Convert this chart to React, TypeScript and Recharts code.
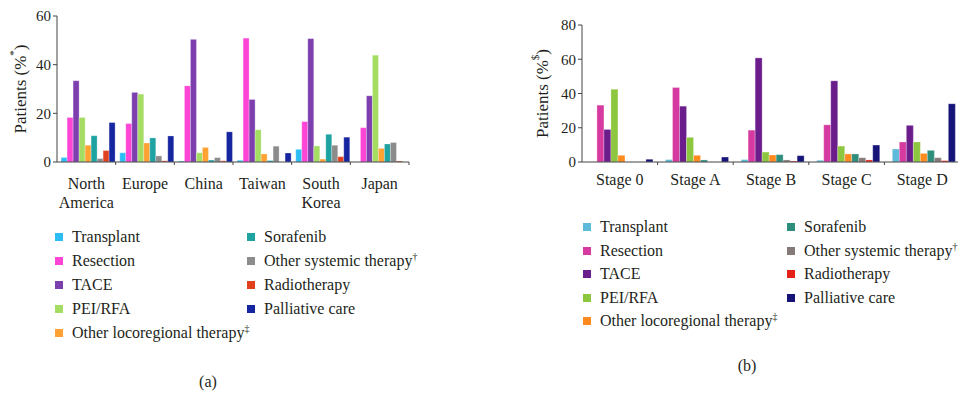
import React from "react";
import { BarChart, Bar, XAxis, YAxis, Label } from "recharts";

const FONT = "'Liberation Serif', 'Times New Roman', Times, 'DejaVu Serif', 'Noto Serif', FreeSerif, serif";
const INK = "#231f20";

// ---- (a) treatment by region ----
const regions = ["North America", "Europe", "China", "Taiwan", "South Korea", "Japan"];
const transplantByRegion = [1.8, 3.8, 0.4, 0.7, 5.2, 0];
const resectionByRegion = [18.3, 15.8, 31.3, 50.9, 16.6, 14.1];
const taceByRegion = [33.4, 28.6, 50.4, 25.7, 50.7, 27.2];
const peiRfaByRegion = [18.3, 27.9, 3.8, 13.3, 6.6, 43.9];
const otherLocoByRegion = [6.9, 7.8, 6.0, 3.3, 1.2, 5.6];
const sorafenibByRegion = [10.8, 9.9, 0.8, 0.6, 11.4, 7.4];
const otherSystemicByRegion = [1.4, 2.5, 1.8, 6.5, 6.9, 8.0];
const radiotherapyByRegion = [4.7, 0.5, 0.5, 0, 2.2, 0.4];
const palliativeByRegion = [16.2, 10.7, 12.4, 3.7, 10.2, 0];
const regionTicks = [0, 20, 40, 60];

// ---- (b) treatment by BCLC stage ----
const stages = ["Stage 0", "Stage A", "Stage B", "Stage C", "Stage D"];
const transplantByStage = [0, 1.4, 1.4, 1.0, 7.6];
const resectionByStage = [33.2, 43.5, 18.6, 21.7, 11.7];
const taceByStage = [19.0, 32.6, 60.8, 47.4, 21.4];
const peiRfaByStage = [42.5, 14.4, 5.8, 9.3, 11.7];
const otherLocoByStage = [3.9, 3.9, 4.1, 4.7, 5.0];
const sorafenibByStage = [0, 1.2, 4.3, 4.7, 6.8];
const otherSystemicByStage = [0, 0, 1.2, 2.5, 2.5];
const radiotherapyByStage = [0, 0, 0.6, 1.2, 0.8];
const palliativeByStage = [1.6, 2.9, 3.7, 9.9, 34.0];
const stageTicks = [0, 20, 40, 60, 80];

const treatments = [
  "Transplant",
  "Resection",
  "TACE",
  "PEI/RFA",
  "Other locoregional therapy",
  "Sorafenib",
  "Other systemic therapy",
  "Radiotherapy",
  "Palliative care",
];
const footnoteMarks = ["", "", "", "", "‡", "", "†", "", ""];

const regionColors = [
  "#2cbdf4", "#ff45d6", "#7d3fae", "#a4dd62", "#ffa232",
  "#1fa2a2", "#8c8c8c", "#e0421f", "#1625a0",
];
const stageColors = [
  "#5dbad9", "#d6399f", "#6b1d8c", "#8dc63f", "#ff8a1e",
  "#2e8e7c", "#857a77", "#e42117", "#161479",
];

const regionSeries = [
  transplantByRegion, resectionByRegion, taceByRegion, peiRfaByRegion, otherLocoByRegion,
  sorafenibByRegion, otherSystemicByRegion, radiotherapyByRegion, palliativeByRegion,
];
const stageSeries = [
  transplantByStage, resectionByStage, taceByStage, peiRfaByStage, otherLocoByStage,
  sorafenibByStage, otherSystemicByStage, radiotherapyByStage, palliativeByStage,
];

function buildRows(categories: string[], series: number[][]) {
  return categories.map((name, i) => {
    const row: Record<string, string | number> = { name };
    series.forEach((values, k) => {
      row[`s${k}`] = values[i];
    });
    return row;
  });
}

// category label + a small tick on the right edge of each band
function CategoryTick(props: any) {
  const { x, y, payload, width, visibleTicksCount, wrap, baseline } = props;
  const band = width / visibleTicksCount;
  const lines: string[] = wrap ? String(payload.value).split(" ") : [String(payload.value)];
  return (
    <g>
      <line x1={x + band / 2} x2={x + band / 2} y1={y} y2={y + 3} stroke="#444" />
      <text x={x} y={y + baseline} textAnchor="middle" fontSize={16} fontFamily={FONT} fill={INK}>
        {lines.map((l, i) => (
          <tspan key={i} x={x} dy={i === 0 ? 0 : 19}>
            {l}
          </tspan>
        ))}
      </text>
    </g>
  );
}

function AxisTitle(props: any) {
  const { viewBox, gap, mark } = props;
  const cx = viewBox.x + viewBox.width - gap;
  const cy = viewBox.y + viewBox.height / 2;
  return (
    <text
      x={cx}
      y={cy}
      transform={`rotate(-90, ${cx}, ${cy})`}
      textAnchor="middle"
      dominantBaseline="central"
      fontSize={17}
      fontFamily={FONT}
      fill={INK}
    >
      Patients (%
      <tspan dy={-7} fontSize={11}>
        {mark}
      </tspan>
      <tspan dy={7}>)</tspan>
    </text>
  );
}

function TreatmentLegend({ colors, left, col2, top, step }: any) {
  return (
    <div style={{ position: "absolute", left: 0, top: 0 }}>
      {treatments.map((t, k) => {
        const inFirst = k < 5;
        const row = inFirst ? k : k - 5;
        return (
          <div
            key={t}
            style={{
              position: "absolute",
              left: inFirst ? left : col2,
              top: top + row * step - 10,
              height: 20,
              display: "flex",
              alignItems: "center",
              whiteSpace: "nowrap",
              fontFamily: FONT,
              fontSize: 16,
              color: INK,
            }}
          >
            <span style={{ width: 8, height: 8, background: colors[k], marginRight: 9, display: "inline-block" }} />
            <span>
              {t}
              {footnoteMarks[k] && (
                <sup style={{ fontSize: 10, verticalAlign: "6px", lineHeight: 0 }}>{footnoteMarks[k]}</sup>
              )}
            </span>
          </div>
        );
      })}
    </div>
  );
}

function Caption({ text, x, y }: any) {
  return (
    <div
      style={{
        position: "absolute",
        left: x - 20,
        top: y - 10,
        width: 40,
        textAlign: "center",
        fontFamily: FONT,
        fontSize: 16,
        color: INK,
        lineHeight: "20px",
      }}
    >
      {text}
    </div>
  );
}

const axisTick = { fontSize: 15, fontFamily: FONT, fill: INK };

export default function App() {
  const regionRows = buildRows(regions, regionSeries);
  const stageRows = buildRows(stages, stageSeries);

  return (
    <div
      style={{
        position: "fixed",
        left: 0,
        top: 0,
        width: 958,
        height: 394,
        overflow: "hidden",
        background: "#fff",
        fontFamily: FONT,
      }}
    >
      <div style={{ position: "absolute", left: 0, top: 0 }}>
        <BarChart
          width={430}
          height={215}
          data={regionRows}
          margin={{ top: 16, right: 21, bottom: 3, left: 17 }}
          barCategoryGap="7%"
          barGap={0}
        >
          <XAxis
            dataKey="name"
            stroke="#444"
            tickLine={false}
            tickSize={0}
            tickMargin={0}
            height={50}
            interval={0}
            tick={<CategoryTick wrap baseline={27} />}
          />
          <YAxis
            domain={[0, 60]}
            ticks={regionTicks}
            width={40}
            stroke="#444"
            tickSize={4}
            tick={axisTick}
          >
            <Label content={<AxisTitle gap={37} mark="*" />} />
          </YAxis>
          {treatments.map((t, k) => (
            <Bar
              key={t}
              dataKey={`s${k}`}
              name={t}
              fill={regionColors[k]}
              stroke="#ffffff"
              strokeOpacity={0.45}
              strokeWidth={0.6}
              isAnimationActive={false}
            />
          ))}
        </BarChart>
      </div>

      <div style={{ position: "absolute", left: 490, top: 0 }}>
        <BarChart
          width={496}
          height={215}
          data={stageRows}
          margin={{ top: 25, right: 26, bottom: 3, left: 42 }}
          barCategoryGap="10.5%"
          barGap={0}
        >
          <XAxis
            dataKey="name"
            stroke="#444"
            tickLine={false}
            tickSize={0}
            tickMargin={0}
            height={50}
            interval={0}
            tick={<CategoryTick baseline={23} />}
          />
          <YAxis
            domain={[0, 80]}
            ticks={stageTicks}
            width={50}
            stroke="#444"
            tickSize={4}
            tick={axisTick}
          >
            <Label content={<AxisTitle gap={40} mark="$" />} />
          </YAxis>
          {treatments.map((t, k) => (
            <Bar
              key={t}
              dataKey={`s${k}`}
              name={t}
              fill={stageColors[k]}
              stroke="#ffffff"
              strokeOpacity={0.45}
              strokeWidth={0.6}
              isAnimationActive={false}
            />
          ))}
        </BarChart>
      </div>

      <TreatmentLegend colors={regionColors} left={55} col2={247} top={237} step={24} />
      <TreatmentLegend colors={stageColors} left={583} col2={787} top={227} step={23.5} />

      <Caption text="(a)" x={208} y={382} />
      <Caption text="(b)" x={747} y={366} />
    </div>
  );
}
